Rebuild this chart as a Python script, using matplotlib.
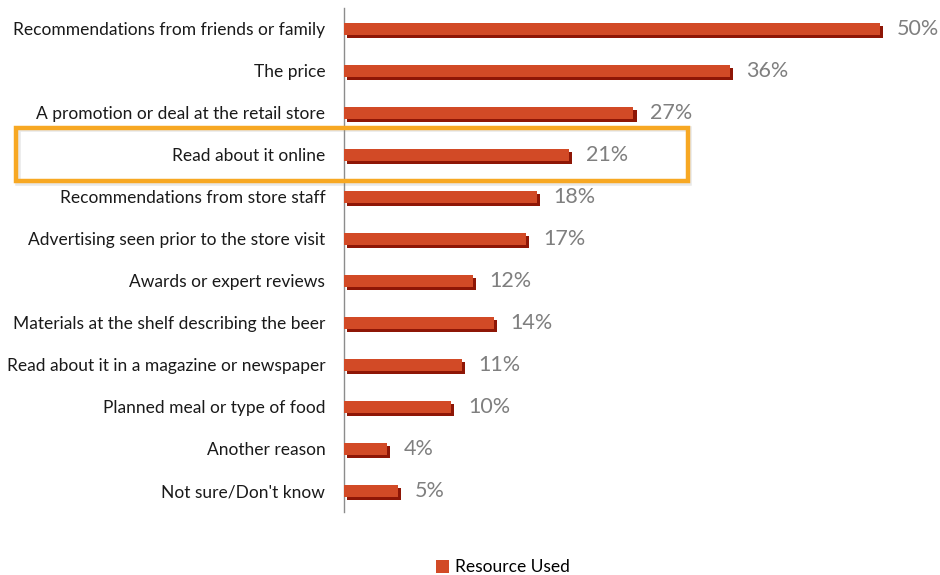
import matplotlib
matplotlib.use("Agg")
import matplotlib.pyplot as plt
import matplotlib.patheffects as pe
import matplotlib.transforms as mtransforms
from matplotlib.patches import Rectangle, Patch

categories = [
    "Recommendations from friends or family",
    "The price",
    "A promotion or deal at the retail store",
    "Read about it online",
    "Recommendations from store staff",
    "Advertising seen prior to the store visit",
    "Awards or expert reviews",
    "Materials at the shelf describing the beer",
    "Read about it in a magazine or newspaper",
    "Planned meal or type of food",
    "Another reason",
    "Not sure/Don't know",
]
values = [50, 36, 27, 21, 18, 17, 12, 14, 11, 10, 4, 5]
series_name = "Resource Used"
highlight = "Read about it online"

BAR = "#D24A26"
SHADOW = "#8E1606"
LABEL_GRAY = "#7F7F7F"
BOX = "#F7A823"

plt.rcParams["font.family"] = ["Lato", "DejaVu Sans"]

fig = plt.figure(figsize=(9.4, 5.75), dpi=100)
ax = fig.add_axes([0.366, 0.1096, 0.570, 0.8765])

ypos = list(range(len(categories)))
bars = ax.barh(ypos, values, height=0.29, color=BAR, zorder=3)
for b in bars:
    b.set_clip_on(False)
    b.set_path_effects([
        pe.SimplePatchShadow(offset=(2.3, -2.3), shadow_rgbFace=SHADOW, alpha=1.0),
        pe.Normal(),
    ])

for y, v in zip(ypos, values):
    ax.annotate(f"{v}%", xy=(v, y), xytext=(12, 0), textcoords="offset points",
                va="center", ha="left", fontsize=15.5, color=LABEL_GRAY,
                annotation_clip=False)

ax.set_xlim(0, 50)
ax.set_ylim(len(categories) - 0.5, -0.5)
ax.set_yticks(ypos)
ax.set_yticklabels(categories, fontsize=12.5, color="#1a1a1a")
ax.tick_params(axis="y", length=0, pad=13.5)
ax.set_xticks([])
for side in ("top", "right", "bottom"):
    ax.spines[side].set_visible(False)
ax.spines["left"].set_color("#8c8c8c")
ax.spines["left"].set_linewidth(1.0)

# Highlight frame around one category row (x in figure space, y in data space)
hi = categories.index(highlight)
trans = mtransforms.blended_transform_factory(fig.transFigure, ax.transData)
shadow_box = Rectangle((0.0195, hi + 0.66), 0.714, -1.27, transform=trans,
                       fill=False, edgecolor="#d9d9d9", linewidth=4, alpha=0.6,
                       clip_on=False, zorder=1)
ax.add_patch(shadow_box)
frame = Rectangle((0.0175, hi + 0.62), 0.714, -1.27, transform=trans,
                  fill=False, edgecolor=BOX, linewidth=3.2, clip_on=False, zorder=5)
ax.add_patch(frame)

handle = Patch(facecolor=BAR, edgecolor="none")
fig.legend(handles=[handle], labels=[series_name], loc="lower center",
           bbox_to_anchor=(0.535, -0.028), frameon=False, fontsize=12.5,
           handlelength=0.75, handleheight=0.75, handletextpad=0.3)

fig.savefig("out.png", dpi=100)
